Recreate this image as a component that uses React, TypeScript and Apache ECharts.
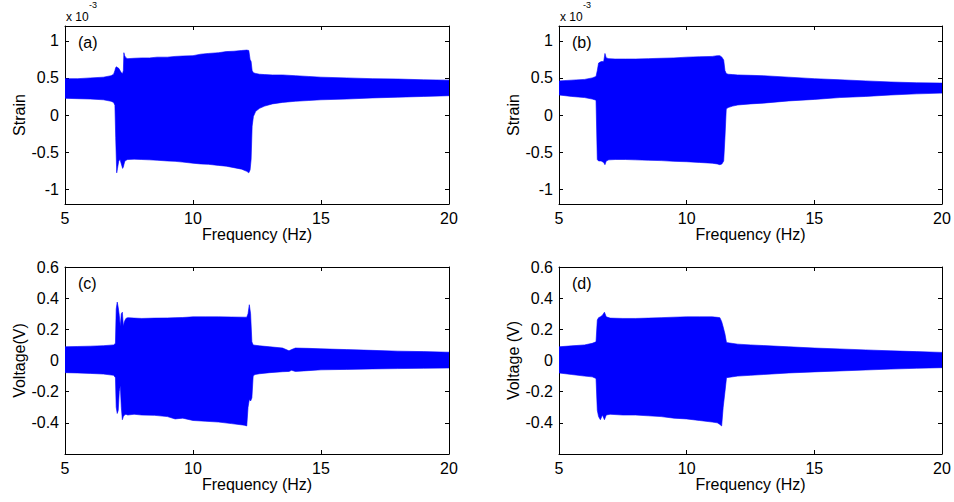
import React, { useEffect, useRef } from "react";
import * as echarts from "echarts";

// ---- Data (strain values in units of 1e-3, voltage in V) ----
const freqA = [5.0, 5.5, 6.0, 6.5, 6.8, 6.9, 6.95, 6.98, 7.02, 7.05, 7.1, 7.15, 7.2, 7.25, 7.28, 7.3, 7.33, 7.38, 7.45, 7.7, 8.0, 8.3, 8.6, 9.0, 9.3, 9.6, 10.0, 10.3, 10.6, 11.0, 11.3, 11.6, 11.9, 12.1, 12.18, 12.23, 12.27, 12.31, 12.36, 12.45, 12.6, 12.8, 13.1, 13.5, 14.0, 14.5, 15.0, 16.0, 17.0, 18.0, 19.0, 20.0];
const upperA = [0.49, 0.49, 0.5, 0.51, 0.53, 0.55, 0.6, 0.64, 0.65, 0.64, 0.63, 0.6, 0.57, 0.56, 0.6, 0.84, 0.8, 0.77, 0.76, 0.765, 0.77, 0.77, 0.78, 0.78, 0.79, 0.795, 0.8, 0.82, 0.83, 0.84, 0.855, 0.86, 0.87, 0.875, 0.87, 0.75, 0.72, 0.6, 0.57, 0.56, 0.55, 0.545, 0.54, 0.54, 0.53, 0.52, 0.51, 0.5, 0.49, 0.485, 0.475, 0.47];
const lowerA = [0.225, 0.22, 0.215, 0.205, 0.185, 0.17, 0.13, -0.3, -0.78, -0.72, -0.62, -0.6, -0.66, -0.72, -0.7, -0.67, -0.63, -0.61, -0.6, -0.595, -0.6, -0.605, -0.61, -0.62, -0.625, -0.635, -0.65, -0.66, -0.665, -0.68, -0.69, -0.71, -0.73, -0.76, -0.78, -0.74, -0.6, -0.15, -0.02, 0.05, 0.09, 0.12, 0.15, 0.17, 0.185, 0.195, 0.205, 0.215, 0.23, 0.24, 0.25, 0.26];

const freqB = [5.0, 5.5, 6.0, 6.3, 6.45, 6.5, 6.55, 6.65, 6.75, 6.8, 6.85, 6.95, 7.2, 7.6, 8.0, 8.5, 9.0, 9.5, 10.0, 10.5, 11.0, 11.2, 11.3, 11.38, 11.45, 11.5, 11.55, 11.62, 11.8, 12.0, 12.5, 13.0, 14.0, 15.0, 16.0, 17.0, 18.0, 19.0, 20.0];
const upperB = [0.46, 0.47, 0.48, 0.5, 0.52, 0.6, 0.7, 0.72, 0.72, 0.83, 0.77, 0.76, 0.755, 0.755, 0.755, 0.76, 0.765, 0.77, 0.78, 0.785, 0.79, 0.8, 0.8, 0.78, 0.74, 0.6, 0.56, 0.55, 0.545, 0.54, 0.535, 0.53, 0.51, 0.49, 0.475, 0.46, 0.445, 0.435, 0.43];
const lowerB = [0.27, 0.25, 0.235, 0.215, 0.2, -0.6, -0.62, -0.62, -0.64, -0.67, -0.62, -0.605, -0.6, -0.6, -0.605, -0.61, -0.615, -0.625, -0.63, -0.64, -0.65, -0.66, -0.67, -0.66, -0.62, -0.3, 0.08, 0.1, 0.12, 0.135, 0.15, 0.16, 0.19, 0.21, 0.235, 0.25, 0.27, 0.285, 0.295];

const freqC = [5.0, 5.5, 6.0, 6.5, 6.9, 6.97, 7.0, 7.04, 7.08, 7.12, 7.16, 7.2, 7.24, 7.28, 7.32, 7.38, 7.45, 7.7, 8.0, 8.5, 9.0, 9.3, 9.6, 10.0, 10.5, 11.0, 11.5, 12.0, 12.1, 12.15, 12.2, 12.25, 12.3, 12.35, 12.42, 12.6, 13.0, 13.5, 13.75, 13.85, 14.0, 14.5, 15.0, 16.0, 17.0, 18.0, 19.0, 20.0];
const upperC = [0.088, 0.09, 0.092, 0.095, 0.1, 0.11, 0.33, 0.375, 0.34, 0.29, 0.22, 0.3, 0.31, 0.22, 0.25, 0.27, 0.275, 0.272, 0.27, 0.272, 0.273, 0.275, 0.276, 0.28, 0.28, 0.28, 0.279, 0.278, 0.278, 0.3, 0.358, 0.3, 0.12, 0.1, 0.098, 0.094, 0.088, 0.08, 0.062, 0.07, 0.08, 0.078, 0.075, 0.07, 0.065, 0.06, 0.057, 0.053];
const lowerC = [-0.078, -0.08, -0.083, -0.087, -0.095, -0.11, -0.3, -0.34, -0.32, -0.2, -0.16, -0.3, -0.38, -0.36, -0.35, -0.345, -0.35, -0.345, -0.35, -0.352, -0.36, -0.375, -0.37, -0.385, -0.39, -0.395, -0.405, -0.415, -0.42, -0.3, -0.25, -0.26, -0.24, -0.1, -0.09, -0.085, -0.078, -0.072, -0.07, -0.063, -0.07, -0.065, -0.06, -0.057, -0.054, -0.052, -0.05, -0.048];

const freqD = [5.0, 5.5, 6.0, 6.3, 6.45, 6.5, 6.55, 6.62, 6.7, 6.78, 6.85, 7.0, 7.5, 8.0, 8.5, 9.0, 9.5, 10.0, 10.5, 11.0, 11.2, 11.3, 11.37, 11.43, 11.5, 11.56, 12.0, 12.5, 13.0, 14.0, 15.0, 16.0, 17.0, 18.0, 19.0, 20.0];
const upperD = [0.088, 0.094, 0.1, 0.11, 0.12, 0.26, 0.275, 0.28, 0.29, 0.31, 0.28, 0.272, 0.27, 0.27, 0.272, 0.275, 0.278, 0.28, 0.28, 0.28, 0.277, 0.275, 0.25, 0.215, 0.17, 0.115, 0.105, 0.1, 0.096, 0.088, 0.08, 0.074, 0.068, 0.062, 0.057, 0.052];
const lowerD = [-0.08, -0.09, -0.1, -0.105, -0.115, -0.32, -0.36, -0.38, -0.35, -0.38, -0.35, -0.345, -0.35, -0.35, -0.355, -0.36, -0.37, -0.375, -0.385, -0.395, -0.4, -0.41, -0.42, -0.3, -0.2, -0.11, -0.1, -0.095, -0.09, -0.08, -0.073, -0.067, -0.061, -0.055, -0.05, -0.046];

const xTicks = [5, 10, 15, 20];
const strainTicks = [-1, -0.5, 0, 0.5, 1];
const voltTicks = [-0.4, -0.2, 0, 0.2, 0.4, 0.6];
const panelLabels = ["(a)", "(b)", "(c)", "(d)"];
const yNames = ["Strain", "Strain", "Voltage(V)", "Voltage (V)"];
const xName = "Frequency (Hz)";

const FONT = "'Liberation Sans', Arial, Helvetica, sans-serif";
const BLUE = "#0000ff";

const panels = [
  { f: freqA, hi: upperA, lo: lowerA, ticks: strainTicks, min: -1.2, max: 1.2 },
  { f: freqB, hi: upperB, lo: lowerB, ticks: strainTicks, min: -1.2, max: 1.2 },
  { f: freqC, hi: upperC, lo: lowerC, ticks: voltTicks, min: -0.6, max: 0.6 },
  { f: freqD, hi: upperD, lo: lowerD, ticks: voltTicks, min: -0.6, max: 0.6 },
];

const grids = [
  { left: 65, top: 26, width: 384, height: 178 },
  { left: 559, top: 26, width: 383, height: 178 },
  { left: 65, top: 267, width: 384, height: 187 },
  { left: 559, top: 267, width: 383, height: 187 },
];

export default function App() {
  const ref = useRef<HTMLDivElement>(null);
  useEffect(() => {
    if (!ref.current) return;
    const chart = echarts.init(ref.current, null, { renderer: "svg" });
    const axisLine = { show: true, onZero: false, lineStyle: { color: "#000", width: 1 } };
    const xAxes: any[] = [];
    const yAxes: any[] = [];
    const series: any[] = [];
    panels.forEach((p, g) => {
      xAxes.push({
        type: "value", gridIndex: g, position: "bottom", min: 5, max: 20, interval: 5,
        axisLine, splitLine: { show: false },
        axisTick: { show: true, inside: true, length: 4, customValues: xTicks, lineStyle: { color: "#000" } },
        axisLabel: { color: "#000", fontSize: 16, fontFamily: FONT, margin: 6, customValues: xTicks },
        name: xName, nameLocation: "middle", nameGap: 22,
        nameTextStyle: { color: "#000", fontSize: 16, fontFamily: FONT },
      });
      xAxes.push({
        type: "value", gridIndex: g, position: "top", min: 5, max: 20, interval: 5,
        axisLine, splitLine: { show: false },
        axisTick: { show: true, inside: true, length: 4, customValues: xTicks, lineStyle: { color: "#000" } },
        axisLabel: { show: false },
      });
      yAxes.push({
        type: "value", gridIndex: g, position: "left", min: p.min, max: p.max,
        axisLine, splitLine: { show: false },
        axisTick: { show: true, inside: true, length: 4, customValues: p.ticks, lineStyle: { color: "#000" } },
        axisLabel: { color: "#000", fontSize: 16, fontFamily: FONT, margin: 6, customValues: p.ticks },
        name: yNames[g], nameLocation: "middle", nameGap: 38,
        nameTextStyle: { color: "#000", fontSize: 16, fontFamily: FONT },
      });
      yAxes.push({
        type: "value", gridIndex: g, position: "right", min: p.min, max: p.max,
        axisLine, splitLine: { show: false },
        axisTick: { show: true, inside: true, length: 4, customValues: p.ticks, lineStyle: { color: "#000" } },
        axisLabel: { show: false, customValues: p.ticks },
      });
      series.push({
        type: "custom",
        xAxisIndex: 2 * g,
        yAxisIndex: 2 * g,
        data: p.f.map((f, i) => [f, p.lo[i], p.hi[i]]),
        encode: { x: 0, y: [1, 2] },
        clip: true,
        silent: true,
        renderItem: (params: any, api: any) => {
          if (params.dataIndex !== 0) return null;
          const pts: number[][] = [];
          for (let i = 0; i < p.f.length; i++) pts.push(api.coord([p.f[i], p.hi[i]]));
          for (let i = p.f.length - 1; i >= 0; i--) pts.push(api.coord([p.f[i], p.lo[i]]));
          return {
            type: "polygon",
            shape: { points: pts },
            style: { fill: BLUE, stroke: BLUE, lineWidth: 0.6 },
          };
        },
      });
    });

    const graphic: any[] = [];
    grids.forEach((gr, g) => {
      graphic.push({
        type: "text", x: gr.left + 13, y: gr.top + 16,
        style: { text: panelLabels[g], fill: "#000", fontSize: 16, fontFamily: FONT, verticalAlign: "middle" },
      });
    });
    [grids[0], grids[1]].forEach((gr) => {
      graphic.push({
        type: "text", x: gr.left + 1, y: 16.5,
        style: { text: "x 10", fill: "#000", fontSize: 12, fontFamily: FONT, verticalAlign: "middle" },
      });
      graphic.push({
        type: "text", x: gr.left + 24, y: 5,
        style: { text: "-3", fill: "#000", fontSize: 9, fontFamily: FONT, verticalAlign: "middle" },
      });
    });

    chart.setOption({
      animation: false,
      backgroundColor: "#fff",
      grid: grids.map((g) => ({ ...g, containLabel: false })),
      xAxis: xAxes,
      yAxis: yAxes,
      series,
      graphic,
    });
    return () => chart.dispose();
  }, []);
  return (
    <div
      ref={ref}
      style={{ position: "absolute", left: 0, top: 0, width: 954, height: 502 }}
    />
  );
}
